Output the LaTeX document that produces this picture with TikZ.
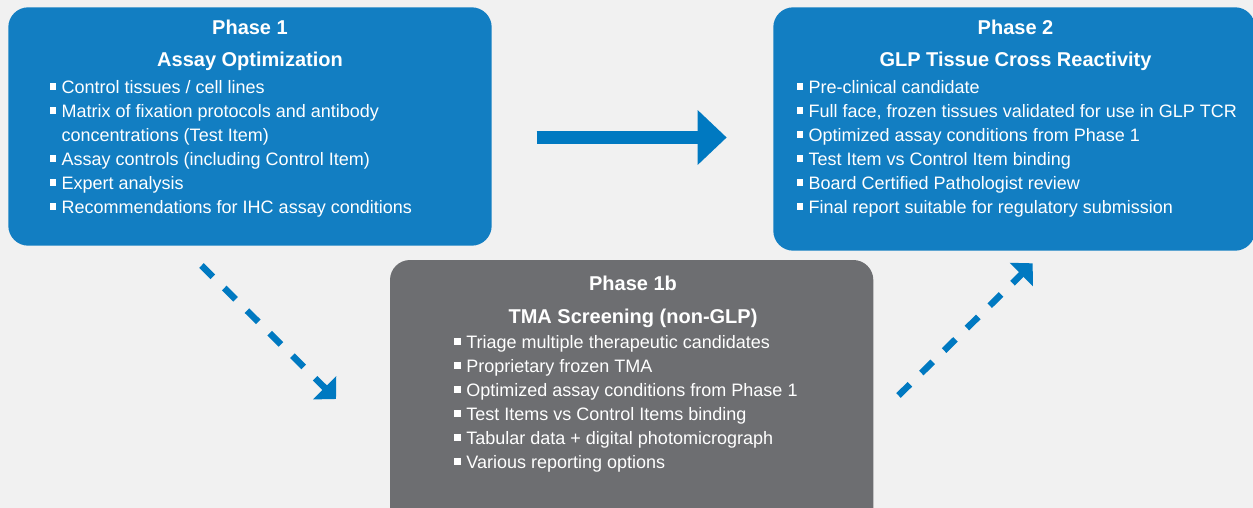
\documentclass[tikz,border=0pt]{standalone}
\usepackage{fontspec}
\setmainfont{Liberation Sans}
\usetikzlibrary{arrows.meta}
\definecolor{bg}{HTML}{F1F1F1}
\definecolor{boxblue}{HTML}{127EC2}
\definecolor{boxgray}{HTML}{6D6E71}
\definecolor{arrblue}{HTML}{0079C1}
\newcommand{\sqb}{\raisebox{3.3pt}{\rule{6.9pt}{6.9pt}}\hspace{5.3pt}}
\newcommand{\sqc}{\phantom{\sqb}}
\begin{document}
\begin{tikzpicture}[x=1pt,y=-1pt,
  phasebox/.style={rounded corners=20pt, inner sep=0pt, draw=none},
  ttl/.style={font=\fontsize{20}{22}\selectfont\bfseries, text=white, anchor=base, inner sep=0pt},
  itm/.style={font=\fontsize{18}{24}\selectfont, text=white, anchor=base west, inner sep=0pt},
  bigarrow/.style={draw=arrblue, line width=13pt, -{Triangle[length=29pt,width=53pt]}},
  dasharrow/.style={draw=arrblue, line width=6.5pt, dash pattern=on 16pt off 16pt, -{Triangle[length=16pt,width=32pt]}}
]
\useasboundingbox (0,0) rectangle (1253,508);
\clip (0,0) rectangle (1253,508);
\fill[bg] (0,0) rectangle (1253,508);

% boxes
\node[phasebox, fill=boxblue, minimum width=483.4pt, minimum height=238.4pt] (p1) at (250,126.5) {};
\node[phasebox, fill=boxblue, minimum width=481.7pt, minimum height=243.4pt] (p2) at (1014.15,129) {};
\node[phasebox, fill=boxgray, minimum width=483.3pt, minimum height=270pt] (p1b) at (631.65,395) {};

% Phase 1 text
\node[ttl] (p1t1) at (250,35) {Phase 1};
\node[ttl] (p1t2) at (250,66.7) {Assay Optimization};
\node[itm] (p1i1) at (49.3,93.3) {\sqb Control tissues / cell lines};
\node[itm] (p1i2) at (49.3,117.3) {\sqb Matrix of fixation protocols and antibody};
\node[itm] (p1i2b) at (49.3,141.3) {\sqc concentrations (Test Item)};
\node[itm] (p1i3) at (49.3,165.3) {\sqb Assay controls (including Control Item)};
\node[itm] (p1i4) at (49.3,189.3) {\sqb Expert analysis};
\node[itm] (p1i5) at (49.3,213.3) {\sqb Recommendations for IHC assay conditions};

% Phase 2 text
\node[ttl] (p2t1) at (1015.5,35) {Phase 2};
\node[ttl] (p2t2) at (1015.5,66.7) {GLP Tissue Cross Reactivity};
\node[itm] (p2i1) at (796.3,93.3) {\sqb Pre-clinical candidate};
\node[itm] (p2i2) at (796.3,117.3) {\sqb Full face, frozen tissues validated for use in GLP TCR};
\node[itm] (p2i3) at (796.3,141.3) {\sqb Optimized assay conditions from Phase 1};
\node[itm] (p2i4) at (796.3,165.3) {\sqb Test Item vs Control Item binding};
\node[itm] (p2i5) at (796.3,189.3) {\sqb Board Certified Pathologist review};
\node[itm] (p2i6) at (796.3,213.3) {\sqb Final report suitable for regulatory submission};

% Phase 1b text
\node[ttl] (p3t1) at (633,290) {Phase 1b};
\node[ttl] (p3t2) at (633,323.3) {TMA Screening (non-GLP)};
\node[itm] (p3i1) at (454,348.3) {\sqb Triage multiple therapeutic candidates};
\node[itm] (p3i2) at (454,372.3) {\sqb Proprietary frozen TMA};
\node[itm] (p3i3) at (454,396.3) {\sqb Optimized assay conditions from Phase 1};
\node[itm] (p3i4) at (454,420.3) {\sqb Test Items vs Control Items binding};
\node[itm] (p3i5) at (454,444.3) {\sqb Tabular data + digital photomicrograph};
\node[itm] (p3i6) at (454,468.3) {\sqb Various reporting options};

% arrows
\coordinate (a1s) at (536.7,137.5);
\coordinate (a1e) at (726.7,137.5);
\draw[bigarrow] (a1s) -- (a1e);

\coordinate (a2s) at (201.5,265.5);
\coordinate (a2e) at (336,399);
\draw[dasharrow] (a2s) -- (a2e);

\coordinate (a3s) at (898.5,395.5);
\coordinate (a3e) at (1032.7,263.3);
\draw[dasharrow] (a3s) -- (a3e);
\end{tikzpicture}
\end{document}
